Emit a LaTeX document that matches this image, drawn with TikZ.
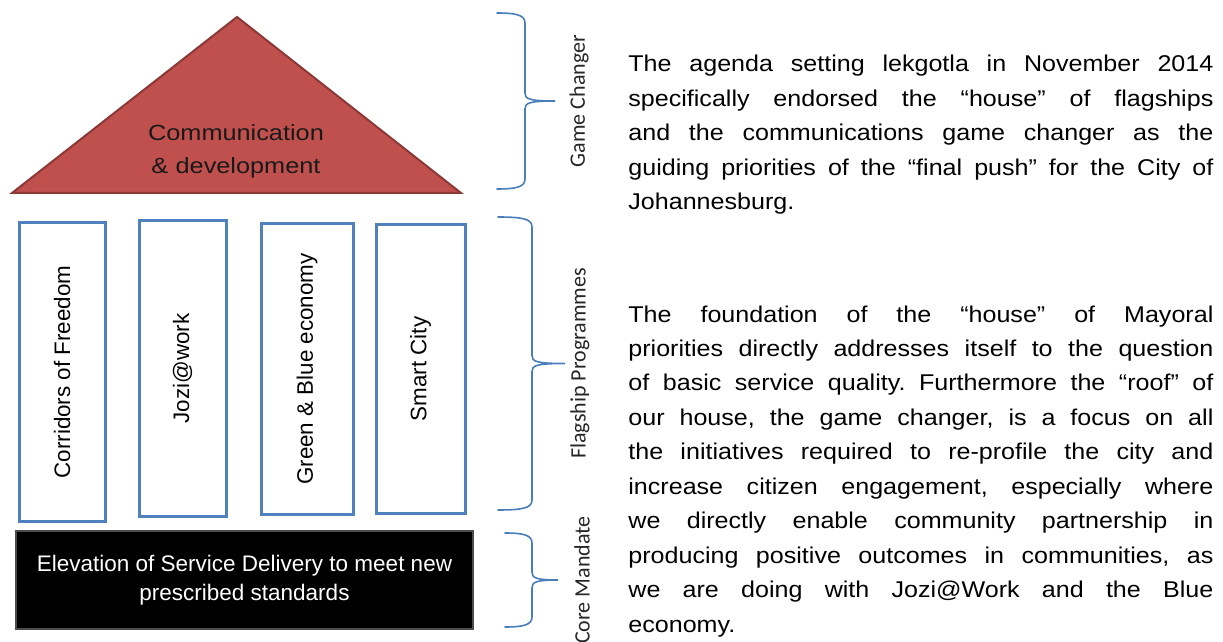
\documentclass[tikz,border=0pt]{standalone}
\usepackage{fontspec}
\setmainfont{Liberation Sans}
\newfontfamily\bodysans[FakeStretch=1.1]{Liberation Sans}
\newfontfamily\roofsans[FakeStretch=1.15]{Liberation Sans}
\newfontfamily\calsans{Carlito}
\definecolor{roofred}{HTML}{C0504D}
\definecolor{roofedge}{HTML}{8C3836}
\definecolor{pillarblue}{HTML}{4F81BD}
\definecolor{braceblue}{HTML}{4A7EBB}
\hyphenpenalty=10000
\exhyphenpenalty=10000
\tolerance=10000
\frenchspacing

% right-hand curly brace: #1 x of the ends, #2 x of the spine, #3 x of the tip, #4 top y, #5 bottom y
\newcommand\housebrace[5]{%
  \pgfmathsetmacro\bracemid{(#4+#5)/2}%
  \draw[brace] (#1,#4) .. controls (#2-9,#4) and (#2,#4+2) .. (#2,#4+10)
    -- (#2,\bracemid-8) .. controls (#2,\bracemid-2) and (#2+4,\bracemid) .. (#3,\bracemid)
    .. controls (#2+4,\bracemid) and (#2,\bracemid+2) .. (#2,\bracemid+8)
    -- (#2,#5-10) .. controls (#2,#5-2) and (#2-9,#5) .. (#1,#5);%
}

\begin{document}
\frenchspacing
\begin{tikzpicture}[x=0.5pt,y=-0.5pt,
  pillarbox/.style={draw=pillarblue, line width=1.5pt, fill=white, rotate=90,
    inner sep=0pt, font=\fontsize{11.2}{13}\selectfont},
  corebox/.style={fill=black, draw=black!70, line width=0.6pt, text=white,
    align=center, inner sep=0pt, font=\fontsize{11.25}{14.5}\selectfont},
  rooftext/.style={text width=170pt, align=center, anchor=base, inner sep=0pt,
    font=\roofsans\fontsize{11}{16.3}\selectfont, text=black!90},
  brace/.style={draw=braceblue, line width=0.8pt, line cap=round},
  bracelabel/.style={rotate=90, inner sep=0pt, text=black!85,
    font=\calsans\fontsize{11}{13}\selectfont},
  bodytext/.style={text width=292.5pt, align=justify, anchor=base west,
    inner sep=0pt, font=\bodysans\fontsize{11.4}{17.25}\selectfont}]
\useasboundingbox (0,0) rectangle (1223,642);

% roof: the game changer
\coordinate (roofApex) at (237,17);
\coordinate (roofLeft) at (12,193);
\coordinate (roofRight) at (461,193);
\filldraw[fill=roofred, draw=roofedge, line width=1pt]
  (roofApex) -- (roofRight) -- (roofLeft) -- cycle;
\node[rooftext] (roofText) at (236,140.7) {Communication\\ \& development};

% flagship pillars
\node[pillarbox, minimum width=149pt, minimum height=43pt] (pillarA) at (62,372)
  {Corridors of Freedom};
\node[pillarbox, minimum width=147.5pt, minimum height=43.5pt] (pillarB) at (182.5,368.5)
  {Jozi@work};
\node[pillarbox, minimum width=145pt, minimum height=46pt] (pillarC) at (307,369)
  {Green \& Blue economy};
\node[pillarbox, minimum width=144pt, minimum height=44.5pt] (pillarD) at (420.5,369)
  {Smart City};

% foundation: the core mandate
\node[corebox, minimum width=228.5pt, minimum height=49pt] (foundation) at (244.5,580)
  {Elevation of Service Delivery to meet new\\ prescribed standards};

% braces and their labels
\housebrace{497}{525}{555}{13}{189}
\housebrace{498}{532}{565}{217}{510}
\housebrace{505}{532}{558}{533}{627}
\node[bracelabel] (gcLabel) at (579,101) {Game Changer};
\node[bracelabel] (fpLabel) at (580,363.5) {Flagship Programmes};
\node[bracelabel] (cmLabel) at (582,580) {Core Mandate};

% explanatory text
\node[bodytext] (introText) at (628,72)
  {The agenda setting lekgotla in November 2014\linebreak
   specifically endorsed the “house” of flagships\linebreak
   and the communications game changer as the\linebreak
   guiding priorities of the “final push” for the City of\linebreak
   Johannesburg.};
\node[bodytext] (mainText) at (628,322)
  {The foundation of the “house” of Mayoral\linebreak
   priorities directly addresses itself to the question\linebreak
   of basic service quality. Furthermore the “roof” of\linebreak
   our house, the game changer, is a focus on all\linebreak
   the initiatives required to re-profile the city and\linebreak
   increase citizen engagement, especially where\linebreak
   we directly enable community partnership in\linebreak
   producing positive outcomes in communities, as\linebreak
   we are doing with Jozi@Work and the Blue\linebreak
   economy.};
\end{tikzpicture}
\end{document}
